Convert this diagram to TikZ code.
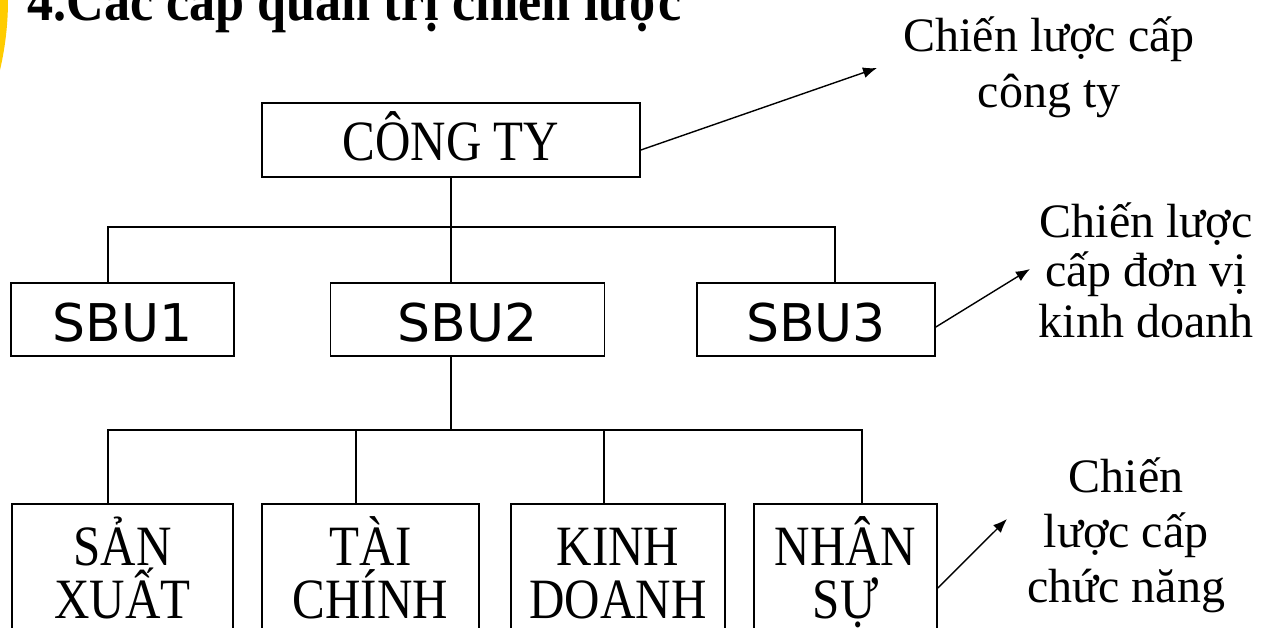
\documentclass[tikz,border=0pt]{standalone}
\usepackage{fontspec}
\setmainfont{Liberation Serif}
\newfontfamily\condserif[FakeStretch=0.86]{Liberation Serif}
\newfontfamily\titleserif[FakeStretch=0.9]{Liberation Serif}
\newfontfamily\sbusans{DejaVu Sans}
\usetikzlibrary{arrows.meta}
\definecolor{arcyellow}{HTML}{FFCC00}
\begin{document}
\begin{tikzpicture}[x=1pt,y=-1pt,
  box/.style={draw, line width=1.7pt, inner sep=0pt},
  cobox/.style={box, font=\condserif\fontsize{57}{60}\selectfont, text height=42pt, text depth=0pt},
  sbubox/.style={box, minimum height=73pt, font=\sbusans\fontsize{52}{54}\selectfont, text height=44pt, text depth=0pt},
  funcbox/.style={box, minimum height=200pt, anchor=north},
  link/.style={line width=1.4pt},
  pointer/.style={line width=1.4pt, -{Latex[length=14pt,width=11pt]}},
  lbl/.style={anchor=base, inner sep=0pt, font=\fontsize{48}{50}\selectfont},
  fline/.style={anchor=base, inner sep=0pt, font=\condserif\fontsize{57}{60}\selectfont},
]
\useasboundingbox (0,0) rectangle (1276,628);
\clip (0,0) rectangle (1276,628);
\fill[arcyellow] (-300,0) circle (308);
\node[anchor=base west, inner sep=0pt, font=\titleserif\bfseries\fontsize{58}{60}\selectfont] (title) at (27,21) {4.Các cấp quản trị chiến lược};

% company
\node[cobox, minimum width=378pt, minimum height=74pt] (cty) at (451,140) {CÔNG TY};

% SBUs
\node[sbubox, minimum width=223pt] (sbu1) at (122.5,319.5) {SBU1};
\node[sbubox, minimum width=274pt] (sbu2) at (467.5,319.5) {SBU2};
\node[sbubox, minimum width=238pt] (sbu3) at (816,319.5) {SBU3};

% functional boxes
\node[funcbox, minimum width=221pt] (sx) at (122.5,503) {};
\node[funcbox, minimum width=217pt] (tc) at (370.5,503) {};
\node[funcbox, minimum width=214pt] (kd) at (618,503) {};
\node[funcbox, minimum width=183pt] (ns) at (845.5,503) {};

\node[fline] (sx1) at (122.5,565) {SẢN};
\node[fline] (sx2) at (122.5,618) {XUẤT};
\node[fline] (tc1) at (370.5,565) {TÀI};
\node[fline] (tc2) at (370.5,618) {CHÍNH};
\node[fline] (kd1) at (618,565) {KINH};
\node[fline] (kd2) at (618,618) {DOANH};
\node[fline] (ns1) at (845.5,565) {NHÂN};
\node[fline] (ns2) at (845.5,618) {SỰ};

% tree connectors
\coordinate (j1) at (451,227);
\coordinate (h1l) at (108,227);
\coordinate (h1r) at (835,227);
\draw[link] (cty.south) -- (j1);
\draw[link] (sbu1.north -| h1l) -- (h1l) -- (h1r) -- (sbu3.north -| h1r);
\draw[link] (j1) -- (sbu2.north -| j1);

\coordinate (j2) at (451,430);
\coordinate (h2l) at (108,430);
\coordinate (v2) at (356,430);
\coordinate (v3) at (604,430);
\coordinate (h2r) at (862,430);
\draw[link] (sbu2.south -| j2) -- (j2);
\draw[link] (sx.north -| h2l) -- (h2l) -- (h2r) -- (ns.north -| h2r);
\draw[link] (v2) -- (v2 |- tc.north);
\draw[link] (v3) -- (v3 |- kd.north);

% labels
\node[lbl] (l1a) at (1049,52) {Chiến lược cấp};
\node[lbl] (l1b) at (1049,108) {công ty};
\node[lbl] (l2a) at (1146,238) {Chiến lược};
\node[lbl] (l2b) at (1146,286) {cấp đơn vị};
\node[lbl] (l2c) at (1146,337) {kinh doanh};
\node[lbl] (l3a) at (1126,492) {Chiến};
\node[lbl] (l3b) at (1126,547) {lược cấp};
\node[lbl] (l3c) at (1126,602) {chức năng};

% pointers
\coordinate (t1) at (877,68);
\coordinate (t2) at (1030,269);
\coordinate (t3) at (1007,519);
\draw[pointer] ([yshift=-10pt]cty.east) -- (t1);
\draw[pointer] ([yshift=-7.5pt]sbu3.east) -- (t2);
\draw[pointer] ([yshift=-85pt]ns.north east) -- (t3);
\end{tikzpicture}
\end{document}
